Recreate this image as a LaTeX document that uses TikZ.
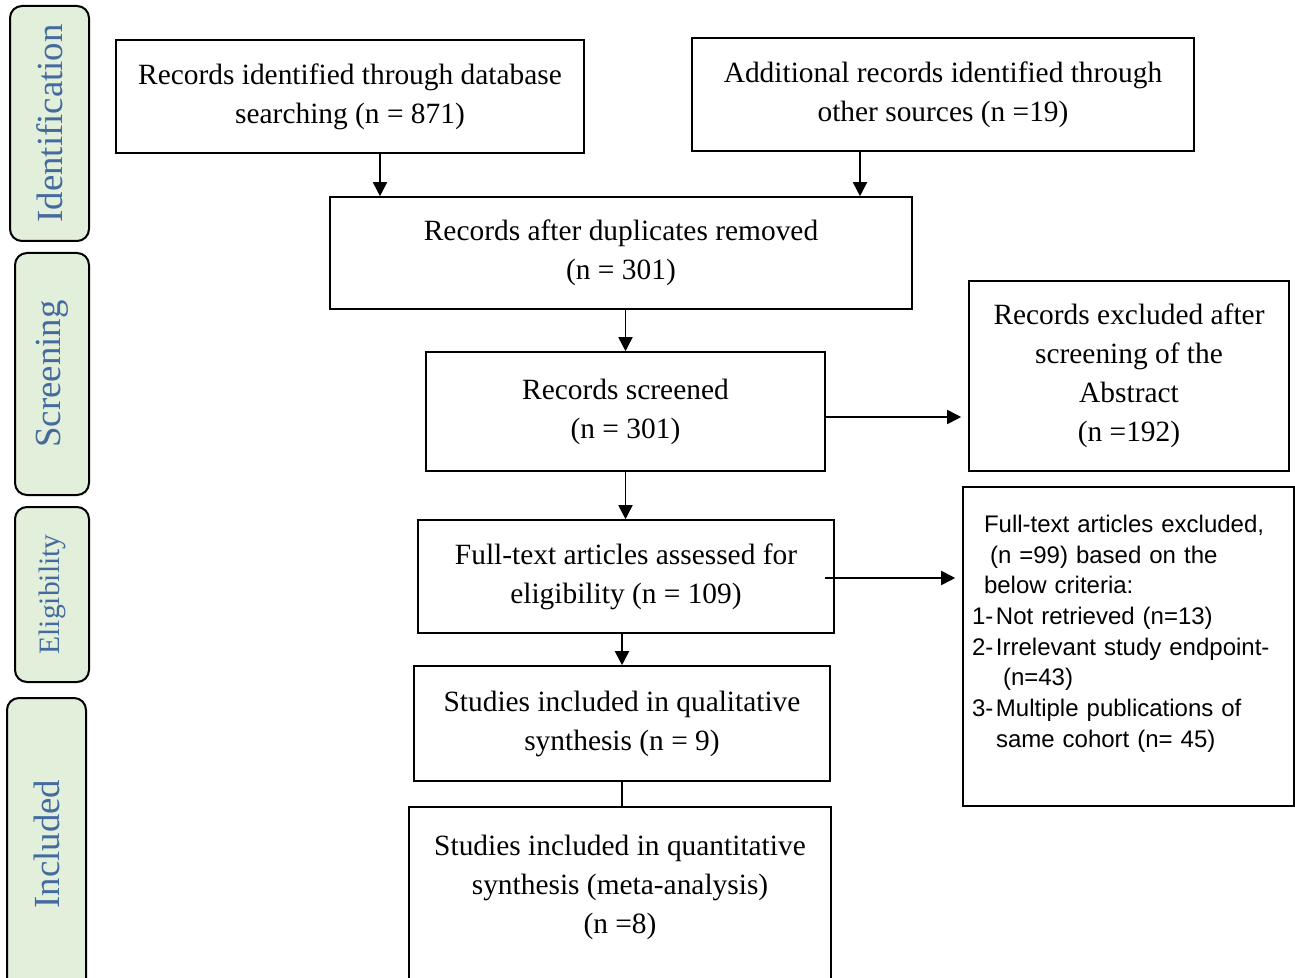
\documentclass[tikz,border=0pt]{standalone}
\usepackage{fontspec}
\setmainfont{Liberation Serif}
\setsansfont{Liberation Sans}
\usetikzlibrary{arrows.meta, positioning, calc}
\definecolor{cPhase}{RGB}{226,239,218}
\definecolor{cPhaseText}{RGB}{68,106,158}
\tikzset{
	stepbox/.style  ={rectangle, draw=black, line width=0.8pt, align=center, inner sep=0pt, font=\fontsize{14.7}{19.5}\selectfont},
	phase/.style    ={rectangle, rounded corners=6pt, draw=black, line width=1pt, fill=cPhase, text=cPhaseText, rotate=90, inner sep=0pt, font=\fontsize{18.4}{22}\selectfont},
	flowarrow/.style={-{Triangle[length=7pt, width=7pt]}, line width=0.9pt},
	% plain link without tip
	flowline/.style ={line width=0.9pt},
}

\begin{document}
\begin{tikzpicture}[x=0.5pt, y=-0.5pt]
	\useasboundingbox (0,0) rectangle (1295,978);
	\clip (0,0) rectangle (1295,978);
	% phase labels on the left
	\node[phase, minimum width=117.5pt, minimum height=39.5pt] (pIdent) at (49.5,123.5) {Identification};
	\node[phase, minimum width=121pt, minimum height=37pt]     (pScrn)  at (52,374)     {Screening};
	\node[phase, minimum width=87.5pt, minimum height=37pt, font=\fontsize{14.8}{18}\selectfont] (pElig) at (52,594.5) {Eligibility};
	\node[phase, minimum width=146pt, minimum height=39.5pt]   (pIncl)  at (46.5,844)   {Included};
	% flow boxes
	\node[stepbox, minimum width=234pt, minimum height=56.5pt] (srch) at (350,96.5)   {Records identified through database\\ searching (n = 871)};
	\node[stepbox, minimum width=251pt, minimum height=56.5pt] (othr) at (943,94.5)   {Additional records identified through\\ other sources (n =19)};
	\node[stepbox, minimum width=291pt, minimum height=56pt]   (dupl) at (621,253)    {Records after duplicates removed\\ (n = 301)};
	\node[stepbox, minimum width=199.5pt, minimum height=59.5pt] (scrn) at (625.5,411.5) {Records screened\\ (n = 301)};
	\node[stepbox, minimum width=160pt, minimum height=95pt]   (excl) at (1129,376)   {Records excluded after\\ screening of the\\ Abstract\\ (n =192)};
	\node[stepbox, minimum width=208pt, minimum height=56.5pt] (full) at (626,576.5)  {Full-text articles assessed for\\ eligibility (n = 109)};
	\node[stepbox, minimum height=159.5pt, text width=165.5pt, align=left,
		font=\sffamily\fontsize{12}{15.35}\selectfont] (fexc) at (1128.5,646.5)
		{\hspace*{10.5pt}Full-text articles excluded,\\
		 \hspace*{13.5pt}(n =99) based on the\\
		 \hspace*{10.5pt}below criteria:\\
		 \hspace*{4.5pt}\makebox[12pt][l]{1-}Not retrieved (n=13)\\
		 \hspace*{4.5pt}\makebox[12pt][l]{2-}Irrelevant study endpoint-\\
		 \hspace*{20pt}(n=43)\\
		 \hspace*{4.5pt}\makebox[12pt][l]{3-}Multiple publications of\\
		 \hspace*{16.5pt}same cohort (n= 45)\\ ~};
	\node[stepbox, minimum width=208pt, minimum height=57.5pt] (qual) at (622,723.5)  {Studies included in qualitative\\ synthesis (n = 9)};
	\node[stepbox, minimum width=211pt, minimum height=96.5pt] (quan) at (620,903.5)  {Studies included in quantitative\\ synthesis (meta-analysis)\\ (n =8)\\ ~};
	% connectors
	\draw[flowarrow] ([xshift=15pt]srch.south) -- ([xshift=15pt]srch.south |- dupl.north);
	\draw[flowarrow] ([xshift=-41.5pt]othr.south) -- ([xshift=-41.5pt]othr.south |- dupl.north);
	\draw[flowarrow] (dupl.south -| scrn.north) -- (scrn.north);
	\draw[flowarrow, shorten >=3.5pt] ([yshift=-2.75pt]scrn.east) -- ([yshift=-2.75pt]scrn.east -| excl.west);
	\draw[flowarrow] (scrn.south) -- (scrn.south |- full.north);
	\draw[flowarrow, shorten >=3.5pt] ([xshift=-5pt, yshift=-0.75pt]full.east) -- ([yshift=-0.75pt]full.east -| fexc.west);
	\draw[flowarrow] (full.south -| qual.north) -- (qual.north);
	\draw[flowline] (qual.south) -- (qual.south |- quan.north);
\end{tikzpicture}
\end{document}
